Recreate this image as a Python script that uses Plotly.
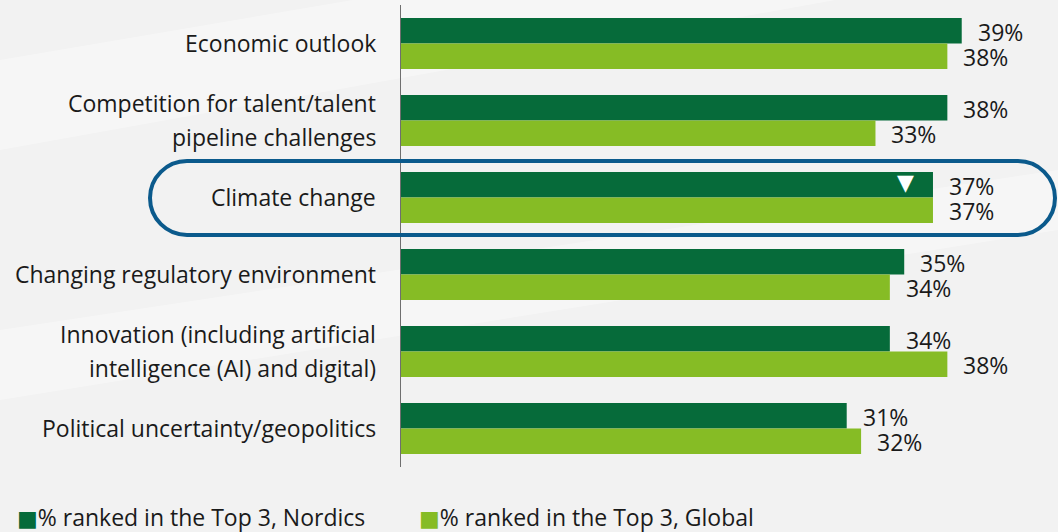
import plotly.graph_objects as go

# Data
categories = [
    "Economic outlook",
    "Competition for talent/talent pipeline challenges",
    "Climate change",
    "Changing regulatory environment",
    "Innovation (including artificial intelligence (AI) and digital)",
    "Political uncertainty/geopolitics",
]
label_lines = [
    ["Economic outlook"],
    ["Competition for talent/talent", "pipeline challenges"],
    ["Climate change"],
    ["Changing regulatory environment"],
    ["Innovation (including artificial", "intelligence (AI) and digital)"],
    ["Political uncertainty/geopolitics"],
]
nordics = [39, 38, 37, 35, 34, 31]
global_share = [38, 33, 37, 34, 38, 32]
series_names = ["% ranked in the Top 3, Nordics", "% ranked in the Top 3, Global"]
highlight = "Climate change"

DARK = "#066B3A"
LIGHT = "#86BC25"
BLUE = "#0B5A8C"
FONT = "Open Sans"
FSIZE = 23

W, H = 1058, 532
ML, MR, MT, MB = 401, 10, 5, 65
PW, PH = W - ML - MR, H - MT - MB


def to_paper(px, py):
    return (px - ML) / PW, 1 - (py - MT) / PH


def poly_path(points):
    return "M " + " L ".join("%.5f,%.5f" % to_paper(x, y) for x, y in points) + " Z"


def rounded_rect(x0, y0, x1, y1, r):
    """Rounded rectangle path in paper coords, from pixel corners."""
    k = 0.5523 * r
    pts = [
        ("M", [(x0 + r, y0)]),
        ("L", [(x1 - r, y0)]),
        ("C", [(x1 - r + k, y0), (x1, y0 + r - k), (x1, y0 + r)]),
        ("L", [(x1, y1 - r)]),
        ("C", [(x1, y1 - r + k), (x1 - r + k, y1), (x1 - r, y1)]),
        ("L", [(x0 + r, y1)]),
        ("C", [(x0 + r - k, y1), (x0, y1 - r + k), (x0, y1 - r)]),
        ("L", [(x0, y0 + r)]),
        ("C", [(x0, y0 + r - k), (x0 + r - k, y0), (x0 + r, y0)]),
    ]
    out = []
    for cmd, coords in pts:
        s = " ".join("%.5f,%.5f" % to_paper(x, y) for x, y in coords)
        out.append(cmd + " " + s)
    return " ".join(out) + " Z"


fig = go.Figure()
for vals, color, name in [(nordics, DARK, series_names[0]), (global_share, LIGHT, series_names[1])]:
    fig.add_trace(go.Bar(
        y=categories,
        x=vals,
        orientation="h",
        name=name,
        marker=dict(color=color, line=dict(width=0)),
        hoverinfo="skip",
    ))

annotations = []
# value labels next to the bar ends (Nordics bar sits above, Global below)
for vals, shift in [(nordics, 12.5), (global_share, -12.5)]:
    for cat, v in zip(categories, vals):
        annotations.append(dict(
            x=v, xref="x", y=cat, yref="y",
            xanchor="left", yanchor="middle", xshift=14, yshift=shift,
            height=25,
            text="%d%%" % v, showarrow=False,
            font=dict(family=FONT, size=FSIZE, color="#1a1a1a"),
        ))

# category labels, one annotation per line for wider line spacing
for cat, lines in zip(categories, label_lines):
    n = len(lines)
    for i, line in enumerate(lines):
        annotations.append(dict(
            x=0, xref="paper", y=cat, yref="y",
            xanchor="right", yanchor="middle", xshift=-23,
            yshift=(n - 1) * 17 - i * 34 + 1,
            text=line, showarrow=False,
            font=dict(family=FONT, size=FSIZE, color="#1a1a1a"),
        ))

# white marker on the highlighted Nordics bar
annotations.append(dict(
    x=nordics[categories.index(highlight)] - 1.9, xref="x", y=highlight, yref="y",
    yshift=15, text="▼", showarrow=False,
    font=dict(family="DejaVu Sans", size=22, color="white"),
))

# legend drawn as text
for name, color, px in [(series_names[0], DARK, 15), (series_names[1], LIGHT, 417)]:
    annotations.append(dict(
        x=to_paper(px, 0)[0], xref="paper", y=to_paper(0, 517)[1], yref="paper",
        xanchor="left", yanchor="middle",
        text="<span style='color:%s;font-family:DejaVu Sans;font-size:22px'>■</span>%s" % (color, name),
        showarrow=False,
        font=dict(family=FONT, size=FSIZE, color="#1a1a1a"),
    ))

# faint light streaks in the background
streaks = [
    [(0, 60), (1058, -120), (1058, -40), (0, 150)],
    [(0, 330), (1058, 170), (1058, 230), (0, 400)],
]
shapes = [dict(
    type="path", xref="paper", yref="paper", path=poly_path(p),
    fillcolor="rgba(255,255,255,0.35)", line=dict(width=0), layer="below",
) for p in streaks]

shapes.append(dict(
    type="path", xref="paper", yref="paper",
    path=rounded_rect(150, 161, 1055, 235, 37),
    line=dict(color=BLUE, width=4),
    fillcolor="rgba(0,0,0,0)",
    layer="above",
))

fig.update_layout(
    width=W, height=H,
    margin=dict(l=ML, r=MR, t=MT, b=MB),
    barmode="group", bargap=0.34, bargroupgap=0,
    paper_bgcolor="#F2F2F2", plot_bgcolor="rgba(0,0,0,0)",
    showlegend=False,
    annotations=annotations,
    shapes=shapes,
)
fig.update_xaxes(range=[0, 45], visible=False)
fig.update_yaxes(
    autorange="reversed", showticklabels=False, showgrid=False,
    showline=True, linecolor="#6f6f6f", linewidth=1, ticks="",
)

# drop the default page margin so the figure fills the window
fig.write_html(
    "out.html",
    config={"displayModeBar": False},
    post_script="document.body.style.margin='0';document.body.style.background='#F2F2F2';",
)
